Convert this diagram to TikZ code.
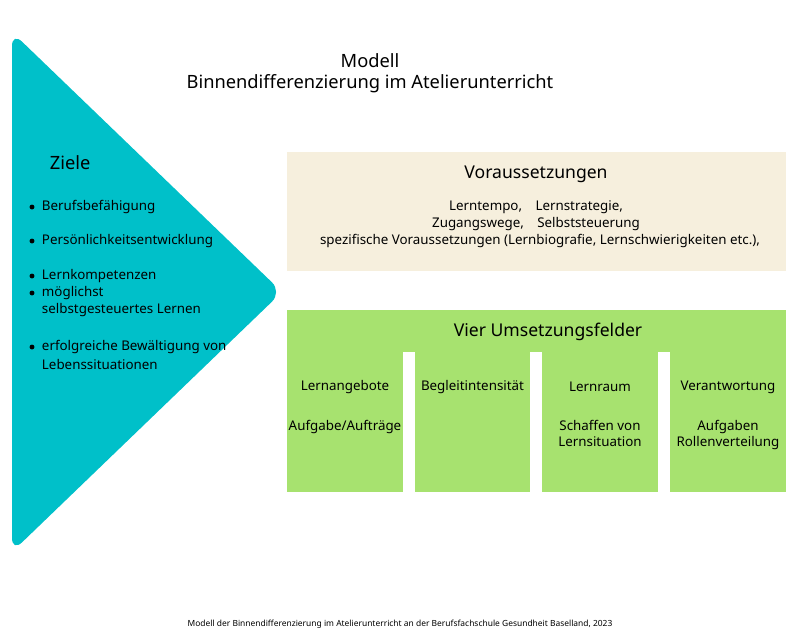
\documentclass[tikz,border=0pt]{standalone}
\usepackage{fontspec}
\setmainfont{Noto Sans}
\definecolor{teal}{HTML}{00C0C9}
\definecolor{beige}{HTML}{F6EFDD}
\definecolor{lgreen}{HTML}{A7E26F}
\tikzset{
  body/.style={font=\fontsize{9.5}{11.5}\selectfont, align=center},
  head/.style={font=\fontsize{9.5}{11.5}\selectfont\bfseries},
  item/.style={font=\fontsize{9.5}{11.5}\selectfont, anchor=west, align=left},
  dot/.style={circle, fill=black, inner sep=0pt, minimum size=3.5pt}
}
\begin{document}
\begin{tikzpicture}[x=0.025cm,y=-0.025cm]
  \useasboundingbox (0,0) rectangle (800,632);
  % goals arrow
  \fill[teal, rounded corners=10pt] (12,32) -- (282,292) -- (12,552) -- cycle;
  \node[font=\fontsize{13}{15}\selectfont\bfseries] (title) at (370,74)
    {\begin{tabular}{c}Modell\\Binnendifferenzierung im Atelierunterricht\end{tabular}};
  \node[font=\fontsize{13}{15}\selectfont\bfseries, anchor=west] (ziele) at (45,163) {Ziele};
  \foreach \y/\t [count=\i] in {207/Berufsbefähigung, 241/Persönlichkeitsentwicklung,
      276/Lernkompetenzen, 293/möglichst, 347/erfolgreiche Bewältigung von}{
    \node[dot] (d\i) at (32,\y) {};
    \node[item] (z\i) at (37,\y) {\t};
  }
  \node[item] (z6) at (37,310) {selbstgesteuertes Lernen};
  \node[item] (z7) at (37,364) {Lebenssituationen};
  % requirements
  \fill[beige] (287,152) rectangle (786,271);
  \node[font=\fontsize{12.5}{15}\selectfont\bfseries] (vor) at (536,174) {Voraussetzungen};
  \node[body] (vor1) at (536,207) {Lerntempo,\quad Lernstrategie,};
  \node[body] (vor2) at (536,224) {Zugangswege,\quad Selbststeuerung};
  \node[body] (vor3) at (540,241) {spezifische Voraussetzungen (Lernbiografie, Lernschwierigkeiten etc.),};
  % fields
  \fill[lgreen] (287,310) rectangle (786,352);
  \node[font=\fontsize{12.5}{15}\selectfont\bfseries] (vier) at (548,332) {Vier Umsetzungsfelder};
  \foreach \xa/\xb/\h/\t [count=\i] in {287/403/Lernangebote/Aufgabe\slash Aufträge,
      415/530/Begleitintensität/{},
      542/658/Lernraum/{Schaffen von\\Lernsituation},
      670/786/Verantwortung/{Aufgaben\\Rollenverteilung}}{
    \fill[lgreen] (\xa,351) rectangle (\xb,492);
    \node[head] (f\i) at ({(\xa+\xb)/2},387) {\h};
    \node[body, anchor=north] (g\i) at ({(\xa+\xb)/2},415) {\t};
  }
  \node[font=\fontsize{6}{7}\selectfont] (cap) at (400,624)
    {Modell der Binnendifferenzierung im Atelierunterricht an der Berufsfachschule Gesundheit Baselland, 2023};
\end{tikzpicture}
\end{document}
